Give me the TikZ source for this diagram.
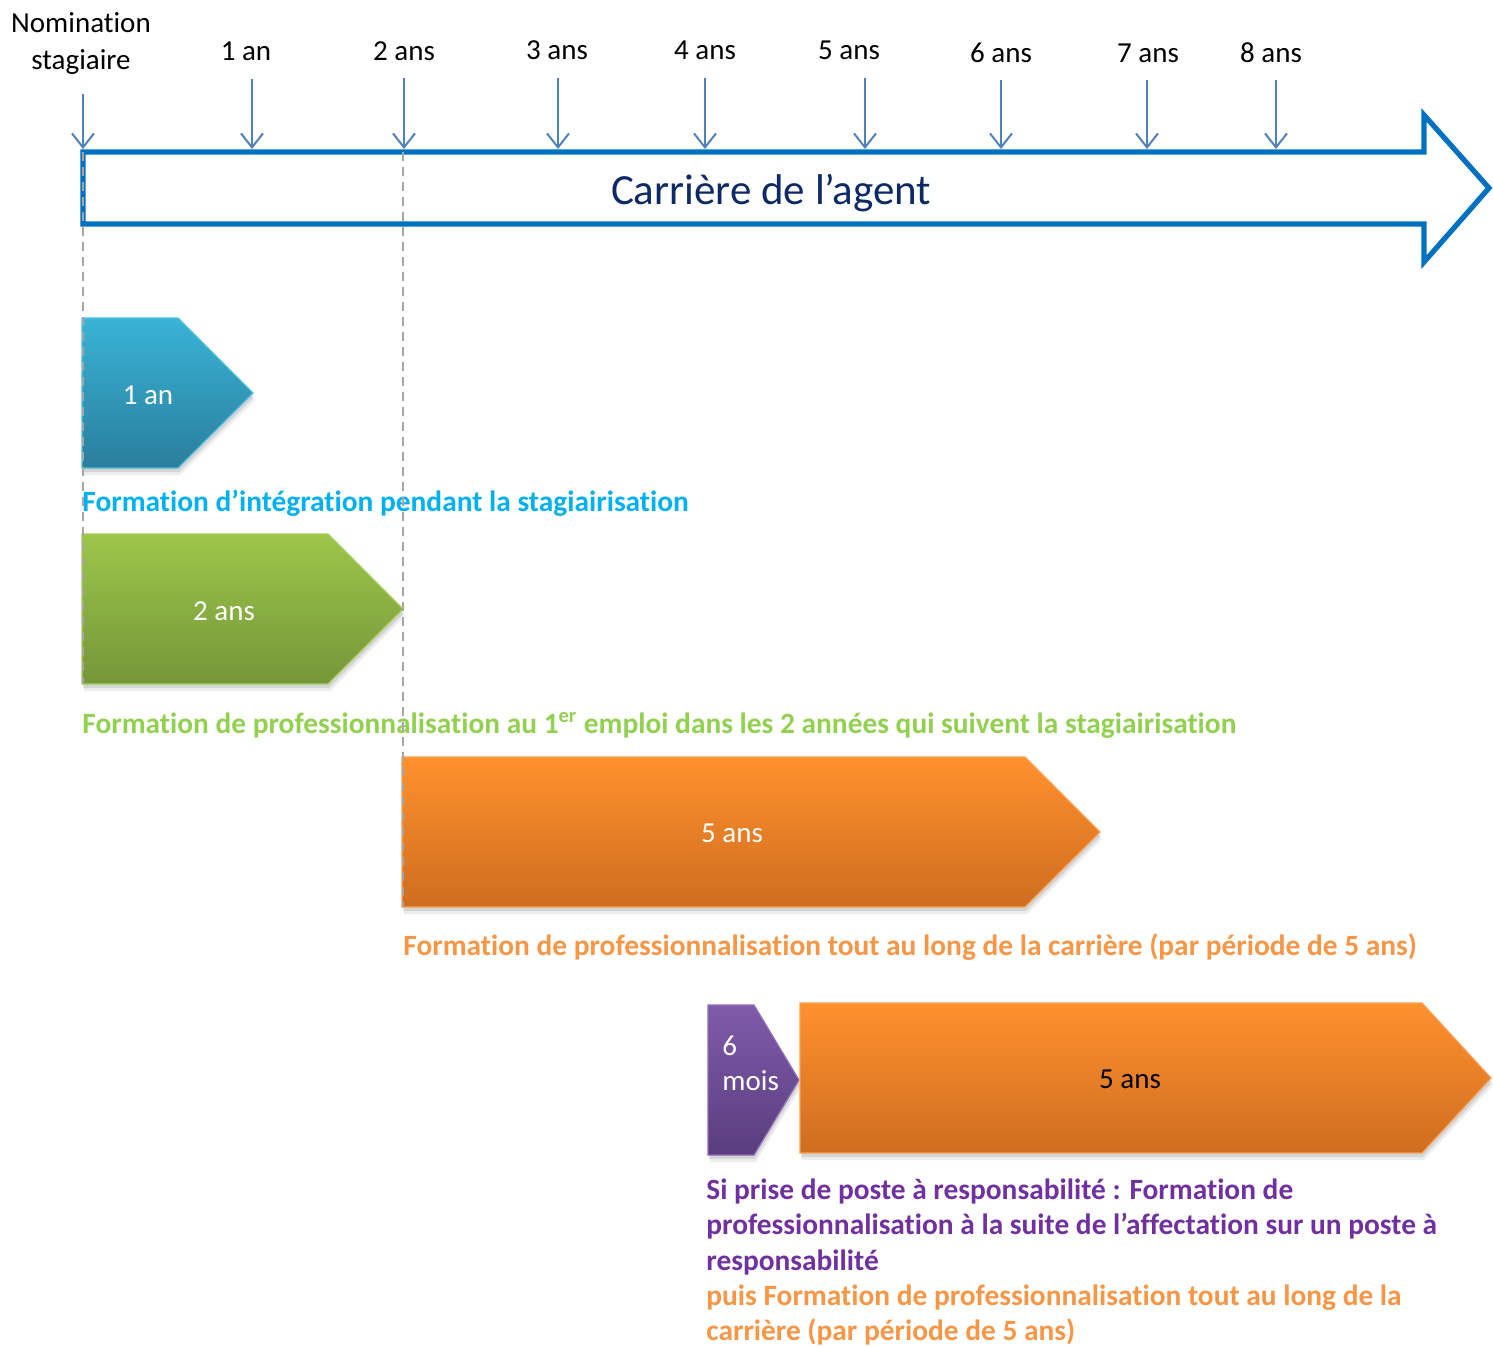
\documentclass[tikz,border=0pt]{standalone}
\usepackage{fontspec}
\setmainfont{Carlito}[Ligatures={NoCommon}]
\usetikzlibrary{arrows.meta}
\definecolor{tickc}{HTML}{4F81BD}
\definecolor{bigc}{HTML}{0070C0}
\definecolor{agentc}{HTML}{0D2A66}
\definecolor{capblue}{HTML}{00B0F0}
\definecolor{capgreen}{HTML}{92D050}
\definecolor{caporange}{HTML}{F79646}
\definecolor{cappurple}{HTML}{7030A0}
\definecolor{bluetop}{HTML}{39B3D6}
\definecolor{bluebot}{HTML}{2A7E9C}
\definecolor{blueline}{HTML}{4BBFE0}
\definecolor{greentop}{HTML}{9DC64B}
\definecolor{greenbot}{HTML}{759639}
\definecolor{greenline}{HTML}{A5CF5A}
\definecolor{orangetop}{HTML}{FF912E}
\definecolor{orangebot}{HTML}{CE6D1F}
\definecolor{orangeline}{HTML}{F9A055}
\definecolor{purpletop}{HTML}{7F5BAA}
\definecolor{purplebot}{HTML}{5A3D7E}
\definecolor{purpleline}{HTML}{8D6DB5}
\definecolor{dashc}{HTML}{A6A6A6}
\newcommand\pentbox[8]{%
  \fill[black,opacity=0.07] (#1+2,#4+7) -- (#2+2,#4+7) -- (#3+2,{(#4+#5)/2+7}) -- (#2+2,#5+7) -- (#1+2,#5+7) -- cycle;
  \fill[black,opacity=0.10] (#1+1,#4+4) -- (#2+1,#4+4) -- (#3+1,{(#4+#5)/2+4}) -- (#2+1,#5+4) -- (#1+1,#5+4) -- cycle;
  \shade[top color=#6,bottom color=#7,draw=#8,line width=0.6pt] (#1,#4) -- (#2,#4) -- (#3,{(#4+#5)/2}) -- (#2,#5) -- (#1,#5) -- cycle;
}
\tikzset{
  tickarrow/.style={draw=tickc,line width=1pt,-{Straight Barb[length=7pt,width=11pt,line width=1pt]}},
  toplab/.style={anchor=base,inner sep=0pt,font=\fontsize{14.5}{17}\selectfont},
  boxlab/.style={anchor=base,inner sep=0pt,text=white,font=\fontsize{14.5}{17}\selectfont},
  caption/.style={anchor=base west,inner sep=0pt,font=\bfseries\fontsize{14.7}{17}\selectfont},
  guide/.style={draw=dashc,line width=0.75pt,dash pattern=on 4.5pt off 3pt},
}
\begin{document}
\begin{tikzpicture}[x=0.5pt,y=-0.5pt]
\useasboundingbox (0,0) rectangle (1493,1346);
% big career arrow
\draw[bigc,line width=2.6pt,miter limit=10]
  (83,152) -- (1424,152) -- (1424,115) -- (1489,188) -- (1424,262) -- (1424,224) -- (83,224) -- cycle;
\node[anchor=base,inner sep=0pt,text=agentc,font=\fontsize{21.5}{25}\selectfont] (career) at (771,204) {Carrière de l’agent};
% tick labels
\node[toplab] (nom1) at (81,32) {Nomination};
\node[toplab] (nom2) at (81,69) {stagiaire};
\node[toplab] (l1) at (246,60) {1 an};
\node[toplab] (l2) at (404,60) {2 ans};
\node[toplab] (l3) at (557,59) {3 ans};
\node[toplab] (l4) at (705,59) {4 ans};
\node[toplab] (l5) at (849,59) {5 ans};
\node[toplab] (l6) at (1001,62) {6 ans};
\node[toplab] (l7) at (1148,62) {7 ans};
\node[toplab] (l8) at (1271,62) {8 ans};
% tick arrows
\foreach \n/\x/\ys in {0/83/94,1/252/79,2/404/78,3/558/78,4/705/78,5/865/78,6/1001/80,7/1147/80,8/1276/80}{
  \coordinate (ts\n) at (\x,\ys);
  \coordinate (te\n) at (\x,149);
  \draw[tickarrow] (ts\n) -- (te\n);
}
% boxes
\pentbox{82}{178}{253}{318}{468}{bluetop}{bluebot}{blueline}
\node[boxlab] (b1) at (148,404) {1 an};
\pentbox{82}{328}{403}{534}{684}{greentop}{greenbot}{greenline}
\node[boxlab] (b2) at (224,620) {2 ans};
\pentbox{402}{1025}{1100}{757}{907}{orangetop}{orangebot}{orangeline}
\node[boxlab] (b3) at (732,842) {5 ans};
\pentbox{708}{754}{799}{1005}{1155}{purpletop}{purplebot}{purpleline}
\node[boxlab,anchor=base west] (b4a) at (722,1055) {6};
\node[boxlab,anchor=base west] (b4b) at (722,1090) {mois};
\pentbox{800}{1422}{1491}{1003}{1153}{orangetop}{orangebot}{orangeline}
\node[boxlab,text=black] (b5) at (1130,1088) {5 ans};
% captions
\node[caption,text=capblue] (c1) at (82,511) {Formation d’intégration pendant la stagiairisation};
\node[caption,text=capgreen] (c2) at (82,733) {Formation de professionnalisation au 1\textsuperscript{er} emploi dans les 2 années qui suivent la stagiairisation};
\node[caption,text=caporange] (c3) at (403,955) {Formation de professionnalisation tout au long de la carrière (par période de 5 ans)};
\node[caption,text=cappurple] (p1) at (706,1199) {Si prise de poste à responsabilité : Formation de};
\node[caption,text=cappurple] (p2) at (706,1234) {professionnalisation à la suite de l’affectation sur un poste à};
\node[caption,text=cappurple] (p3) at (706,1270) {responsabilité};
\node[caption,text=caporange] (p4) at (706,1305) {puis Formation de professionnalisation tout au long de la};
\node[caption,text=caporange] (p5) at (706,1340) {carrière (par période de 5 ans)};
% guide lines
\coordinate (g0a) at (83,152);
\coordinate (g0b) at (83,684);
\coordinate (g2a) at (403,152);
\coordinate (g2b) at (403,907);
\draw[guide] (g0a) -- (g0b);
\draw[guide] (g2a) -- (g2b);
\end{tikzpicture}
\end{document}
